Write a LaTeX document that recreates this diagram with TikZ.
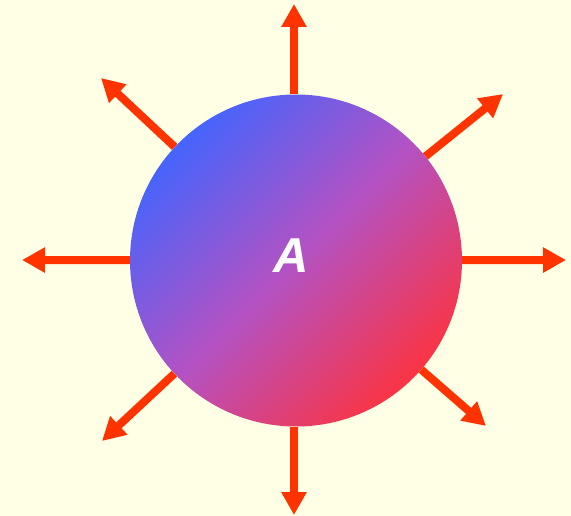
\documentclass[tikz,border=0pt]{standalone}
\usepackage{fontspec}
\setmainfont{Liberation Sans}
\usetikzlibrary{arrows.meta}
\definecolor{bgcream}{RGB}{255,255,230}
\definecolor{arrowred}{RGB}{255,51,0}
\definecolor{ballblue}{RGB}{70,100,252}
\definecolor{ballpurple}{RGB}{180,82,195}
\definecolor{ballred}{RGB}{250,52,68}
\tikzset{
  ray/.style={draw=arrowred, line width=8pt, -{Triangle[length=23pt,width=24pt]}},
  ball/.style={circle, minimum size=332pt, inner sep=0pt, shading=axis,
    top color=ballblue, bottom color=ballred, middle color=ballpurple, shading angle=45},
  label/.style={text=white, font=\fontsize{49}{49}\selectfont\bfseries\itshape, inner sep=0pt}
}
\begin{document}
\begin{tikzpicture}[x=1pt,y=-1pt]
\fill[bgcream] (0,0) rectangle (571,516);
\useasboundingbox (0,0) rectangle (571,516);
\node[ball] (c) at (296,260.5) {};
\node[label] (a) at (291,256) {A};
\coordinate (tn) at (294,4);
\coordinate (ts) at (294,515);
\coordinate (tw) at (22,260);
\coordinate (te) at (566,260);
\coordinate (tnw) at (101,78);
\coordinate (tne) at (503,94);
\coordinate (tsw) at (102,441);
\coordinate (tse) at (486,426);
\draw[ray] (c.north -| tn) -- (tn);
\draw[ray] (c.south -| ts) -- (ts);
\draw[ray] (c) -- (tw);
\draw[ray] (c) -- (te);
\draw[ray] (c) -- (tnw);
\draw[ray] (c) -- (tne);
\draw[ray] (c) -- (tsw);
\draw[ray] (c) -- (tse);
\end{tikzpicture}
\end{document}
